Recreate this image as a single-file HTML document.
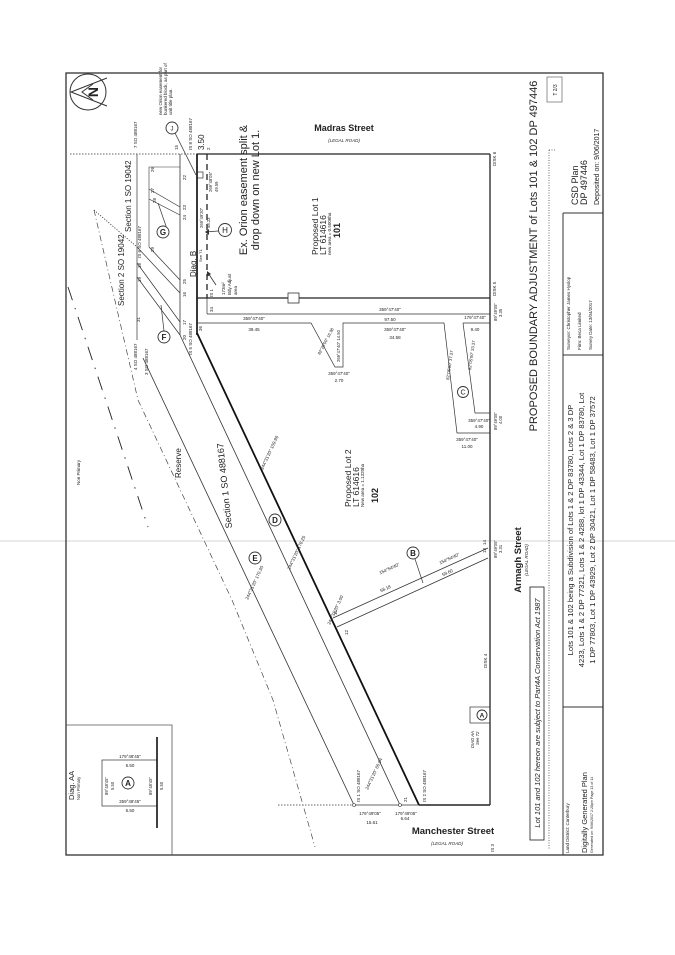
<!DOCTYPE html>
<html><head><meta charset="utf-8"><style>
html,body{margin:0;padding:0;background:#fff;}
svg{display:block;}
text{font-family:"Liberation Sans",sans-serif;fill:#222;}
</style></head><body>
<svg width="675" height="955" viewBox="0 0 675 955" xmlns="http://www.w3.org/2000/svg">
<rect width="675" height="955" fill="#fff"/>
<line x1="0" y1="541" x2="675" y2="541" stroke="#e4e4e4" stroke-width="1.5"/>
<rect x="66" y="73" width="537" height="782" fill="none" stroke="#333" stroke-width="1.3"/>
<circle cx="88" cy="92" r="18" fill="none" stroke="#333" stroke-width="1"/>
<polyline points="107,78 71,92 107,106" fill="none" stroke="#333" stroke-width="1"/>
<polyline points="93,84 82,92 93,100" fill="none" stroke="#333" stroke-width="1"/>
<text transform="translate(98,92) rotate(-90)" font-size="14" text-anchor="middle" font-weight="bold">N</text>
<text transform="translate(162,115) rotate(-90)" font-size="4.5">new Orion easement for</text>
<text transform="translate(167,115) rotate(-90)" font-size="4.5">bunkered block, as part of</text>
<text transform="translate(172,115) rotate(-90)" font-size="4.5">unit title plan.</text>
<circle cx="172" cy="128" r="6" fill="#fff" stroke="#333" stroke-width="0.9"/>
<text x="172" y="130.5" font-size="6" text-anchor="middle">J</text>
<line x1="175" y1="133" x2="196" y2="175" stroke="#333" stroke-width="0.8"/>
<rect x="197" y="172" width="6" height="6" fill="none" stroke="#333" stroke-width="0.7"/>

<line x1="70" y1="154" x2="197" y2="154" stroke="#333" stroke-width="0.8" stroke-dasharray="1.5 1.5"/>
<line x1="278" y1="805" x2="354" y2="805" stroke="#333" stroke-width="0.8" stroke-dasharray="1.5 1.5"/>
<line x1="197" y1="154" x2="490" y2="154" stroke="#222" stroke-width="1.3"/>
<line x1="197" y1="154" x2="197" y2="335" stroke="#222" stroke-width="1.8"/>
<line x1="490" y1="154" x2="490" y2="805" stroke="#222" stroke-width="1.3"/>
<line x1="197" y1="298" x2="490" y2="298" stroke="#222" stroke-width="1.3"/>
<rect x="288" y="293" width="11" height="10" fill="#fff" stroke="#333" stroke-width="0.8"/>
<line x1="207" y1="154" x2="207" y2="298" stroke="#222" stroke-width="1.3" stroke-dasharray="6 4"/>
<line x1="207" y1="298" x2="207" y2="314" stroke="#333" stroke-width="0.7"/>
<line x1="207" y1="314" x2="490" y2="314" stroke="#333" stroke-width="0.7"/>
<polyline points="197,323 311,323 335,367 343,367 343,323 444,323 457,433 490,433" fill="none" stroke="#333" stroke-width="0.7"/>
<polyline points="463,323 490,323" fill="none" stroke="#333" stroke-width="0.7"/>
<polyline points="463,323 475,413 490,413" fill="none" stroke="#333" stroke-width="0.7"/>
<circle cx="225" cy="230" r="6.5" fill="#fff" stroke="#333" stroke-width="0.9"/>
<text x="225" y="233" font-size="8" text-anchor="middle">H</text>
<line x1="218" y1="231" x2="206" y2="232" stroke="#333" stroke-width="0.8"/>
<polygon points="205,232 209,229 209,235" fill="#333"/>
<line x1="216" y1="285" x2="208" y2="273" stroke="#333" stroke-width="0.8"/>
<polygon points="207,271 211,274 207,277" fill="#333"/>
<text transform="translate(225,295) rotate(-90)" font-size="4.5">173m²</text>
<text transform="translate(231,295) rotate(-90)" font-size="4.5">Bdy Adjust</text>
<text transform="translate(237,295) rotate(-90)" font-size="4.5">area</text>
<text transform="translate(247,190) rotate(-90)" font-size="11" text-anchor="middle">Ex. Orion easement split &amp;</text>
<text transform="translate(259,190) rotate(-90)" font-size="11" text-anchor="middle">drop down on new Lot 1.</text>
<text transform="translate(318,255) rotate(-90)" font-size="8.5" fill="#555">Proposed Lot 1</text>
<text transform="translate(326,255) rotate(-90)" font-size="8.5" fill="#555">LT 614616</text>
<text transform="translate(331,255) rotate(-90)" font-size="4.5" fill="#555">new area = 0.5008ha</text>
<text transform="translate(340,238) rotate(-90)" font-size="9" font-weight="bold">101</text>
<text x="344" y="131" font-size="9" font-weight="bold" text-anchor="middle">Madras Street</text>
<text x="344" y="142" font-size="4.5" font-style="italic" text-anchor="middle">(LEGAL ROAD)</text>
<text transform="translate(496,166) rotate(-90)" font-size="4.5">DISK 6</text>
<text transform="translate(496,296) rotate(-90)" font-size="4.5">DISK 5</text>
<text transform="translate(487,668) rotate(-90)" font-size="4.5">DISK 4</text>
<text transform="translate(494,852) rotate(-90)" font-size="4.5">IS 3</text>
<text transform="translate(192,150) rotate(-90)" font-size="4.5">IS 8 SO 488167</text>
<text transform="translate(204,150) rotate(-90)" font-size="8">3.50</text>
<text transform="translate(210,150) rotate(-90)" font-size="4.5">2</text>
<text transform="translate(212,192) rotate(-90)" font-size="4.2">269°48'05"</text>
<text transform="translate(218,192) rotate(-90)" font-size="4.2">49.59</text>
<text transform="translate(203,228) rotate(-90)" font-size="4.2">269°49'20"</text>
<text transform="translate(210,228) rotate(-90)" font-size="4.2">58.23</text>
<text transform="translate(213,297) rotate(-90)" font-size="4.5">IS 1</text>
<text transform="translate(213,312) rotate(-90)" font-size="4.5">34</text>
<text transform="translate(202,331) rotate(-90)" font-size="4.5">36</text>
<text x="390" y="311" font-size="4.5" text-anchor="middle">359°47'40"</text>
<text x="390" y="321" font-size="4.5" text-anchor="middle">97.50</text>
<text x="254" y="320" font-size="4.5" text-anchor="middle">359°47'40"</text>
<text x="254" y="331" font-size="4.5" text-anchor="middle">39.45</text>
<text x="395" y="331" font-size="4.5" text-anchor="middle">359°47'40"</text>
<text x="395" y="339" font-size="4.5" text-anchor="middle">34.58</text>
<text x="339" y="375" font-size="4.5" text-anchor="middle">359°47'40"</text>
<text x="339" y="382" font-size="4.5" text-anchor="middle">2.70</text>
<text transform="translate(340,362) rotate(-90)" font-size="4.2">269°47'40" 14.50</text>
<text transform="translate(320,355) rotate(-62)" font-size="4.2">82°20'00" 16.98</text>
<text x="475" y="319" font-size="4.5" text-anchor="middle">179°47'40"</text>
<text x="475" y="331" font-size="4.5" text-anchor="middle">9.40</text>
<text x="479" y="422" font-size="4.5" text-anchor="middle">359°47'40"</text>
<text x="479" y="428" font-size="4.5" text-anchor="middle">4.90</text>
<text x="467" y="441" font-size="4.5" text-anchor="middle">359°47'40"</text>
<text x="467" y="448" font-size="4.5" text-anchor="middle">11.00</text>
<text transform="translate(449,380) rotate(-82)" font-size="4.2">82°05'00" 37.37</text>
<text transform="translate(471,370) rotate(-82)" font-size="4.2">82°05'00" 33.37</text>
<text transform="translate(497,321) rotate(-90)" font-size="4.2">89°49'05"</text>
<text transform="translate(502,317) rotate(-90)" font-size="4.2">3.35</text>
<text transform="translate(497,430) rotate(-90)" font-size="4.2">89°49'05"</text>
<text transform="translate(502,424) rotate(-90)" font-size="4.2">4.00</text>
<text transform="translate(497,558) rotate(-90)" font-size="4.2">89°49'05"</text>
<text transform="translate(502,553) rotate(-90)" font-size="4.2">3.31</text>
<circle cx="463" cy="392" r="5.5" fill="#fff" stroke="#333" stroke-width="0.9"/>
<text x="463" y="394.5" font-size="7" text-anchor="middle">C</text>

<line x1="137" y1="154" x2="137" y2="340" stroke="#333" stroke-width="0.7"/>
<line x1="180" y1="154" x2="180" y2="335" stroke="#333" stroke-width="0.8"/>
<line x1="149" y1="167" x2="149" y2="247" stroke="#333" stroke-width="0.6"/>
<line x1="149" y1="167" x2="180" y2="167" stroke="#333" stroke-width="0.6"/>
<line x1="149" y1="189" x2="180" y2="207" stroke="#333" stroke-width="0.7"/>
<line x1="149" y1="199" x2="180" y2="215" stroke="#333" stroke-width="0.7"/>
<line x1="149" y1="247" x2="180" y2="280" stroke="#333" stroke-width="0.7"/>
<line x1="137" y1="247" x2="180" y2="293" stroke="#333" stroke-width="0.7"/>
<line x1="137" y1="263" x2="180" y2="322" stroke="#333" stroke-width="0.7"/>
<line x1="137" y1="277" x2="180" y2="335" stroke="#333" stroke-width="0.7"/>
<line x1="94" y1="210" x2="137" y2="247" stroke="#333" stroke-width="0.8" stroke-dasharray="1.2 1.5"/>
<text transform="translate(137,148) rotate(-90)" font-size="4.5">7 SO 488167</text>
<text transform="translate(178,150) rotate(-90)" font-size="4.5">15</text>
<text transform="translate(154,172) rotate(-90)" font-size="4.5">26</text>
<text transform="translate(154,193) rotate(-90)" font-size="4.5">27</text>
<text transform="translate(156,203) rotate(-90)" font-size="4.5">28</text>
<text transform="translate(154,252) rotate(-90)" font-size="4.5">29</text>
<text transform="translate(186,180) rotate(-90)" font-size="4.5">22</text>
<text transform="translate(186,210) rotate(-90)" font-size="4.5">23</text>
<text transform="translate(186,220) rotate(-90)" font-size="4.5">24</text>
<text transform="translate(186,284) rotate(-90)" font-size="4.5">25</text>
<text transform="translate(186,297) rotate(-90)" font-size="4.5">16</text>
<text transform="translate(186,325) rotate(-90)" font-size="4.5">17</text>
<text transform="translate(186,340) rotate(-90)" font-size="4.5">20</text>
<text transform="translate(192,355) rotate(-90)" font-size="4.5">IS 5 SO 488167</text>
<text transform="translate(141,258) rotate(-90)" font-size="4.5">IS 6 SO 488167</text>
<text transform="translate(141,268) rotate(-90)" font-size="4.5">18</text>
<text transform="translate(141,282) rotate(-90)" font-size="4.5">19</text>
<text transform="translate(140,322) rotate(-90)" font-size="4.5">31</text>
<text transform="translate(137,370) rotate(-90)" font-size="4.5">4 SO 488167</text>
<text transform="translate(148,375) rotate(-90)" font-size="4.5">3 SO 488167</text>
<text transform="translate(131,232) rotate(-90)" font-size="8">Section 1 SO 19042</text>
<text transform="translate(124,306) rotate(-90)" font-size="8">Section 2 SO 19042</text>
<text transform="translate(196,277) rotate(-90)" font-size="8">Diag. B</text>
<text transform="translate(202,262) rotate(-90)" font-size="4">See T1</text>
<circle cx="163" cy="232" r="6" fill="#fff" stroke="#333" stroke-width="0.9"/>
<text x="163" y="235" font-size="8" text-anchor="middle" font-weight="bold">G</text>
<line x1="166" y1="226" x2="158" y2="203" stroke="#333" stroke-width="0.7"/>
<circle cx="164" cy="337" r="6" fill="#fff" stroke="#333" stroke-width="0.9"/>
<text x="164" y="340" font-size="8" text-anchor="middle" font-weight="bold">F</text>
<line x1="164" y1="331" x2="161" y2="305" stroke="#333" stroke-width="0.7"/>

<line x1="197" y1="333" x2="419" y2="805" stroke="#111" stroke-width="1.8"/>
<line x1="180" y1="335" x2="400" y2="805" stroke="#333" stroke-width="0.8"/>
<line x1="143" y1="358" x2="354" y2="805" stroke="#333" stroke-width="0.8"/>
<polyline points="94,210 138,400 232,600 273,700 315,847" fill="none" stroke="#444" stroke-width="0.7" stroke-dasharray="6 3 1 3"/>
<line x1="68" y1="287" x2="148" y2="527" stroke="#222" stroke-width="0.9" stroke-dasharray="14 8 1.5 8"/>
<text transform="translate(80,485) rotate(-90)" font-size="4.5">Non Primary</text>
<text transform="translate(181,478) rotate(-90)" font-size="8">Reserve</text>
<text transform="translate(232,528) rotate(-96)" font-size="9">Section 1 SO 488167</text>
<text transform="translate(263,470) rotate(-65)" font-size="4.5">244°31'20" 109.96</text>
<text transform="translate(290,570) rotate(-65)" font-size="4.5">244°31'20" 178.25</text>
<text transform="translate(248,600) rotate(-65)" font-size="4.5">244°31'20" 170.30</text>
<text transform="translate(330,625) rotate(-65)" font-size="4.5">244°31'20" 3.00</text>
<text transform="translate(368,790) rotate(-65)" font-size="4.5">244°31'20" 66.94</text>
<circle cx="275" cy="520" r="6" fill="#fff" stroke="#333" stroke-width="0.9"/>
<text x="275" y="523" font-size="8" text-anchor="middle" font-weight="bold">D</text>
<circle cx="255" cy="558" r="6" fill="#fff" stroke="#333" stroke-width="0.9"/>
<text x="255" y="561" font-size="8" text-anchor="middle" font-weight="bold">E</text>

<text transform="translate(351,507) rotate(-90)" font-size="8.5" fill="#555">Proposed Lot 2</text>
<text transform="translate(359,507) rotate(-90)" font-size="8.5" fill="#555">LT 614616</text>
<text transform="translate(364,507) rotate(-90)" font-size="4.5" fill="#555">New area = 1.1320ha</text>
<text transform="translate(378,503) rotate(-90)" font-size="9" font-weight="bold">102</text>
<line x1="333" y1="618" x2="488" y2="548" stroke="#333" stroke-width="0.8"/>
<line x1="337" y1="627" x2="488" y2="558" stroke="#333" stroke-width="0.8"/>
<text transform="translate(390,570) rotate(-24.5)" font-size="4.5" text-anchor="middle">154°54'40"</text>
<text transform="translate(450,560) rotate(-24.5)" font-size="4.5" text-anchor="middle">154°54'40"</text>
<text transform="translate(386,590) rotate(-24.5)" font-size="4.5" text-anchor="middle">58.18</text>
<text transform="translate(448,574) rotate(-24.5)" font-size="4.5" text-anchor="middle">59.60</text>
<text transform="translate(337,615) rotate(-90)" font-size="4.5">11</text>
<text transform="translate(348,635) rotate(-90)" font-size="4.5">12</text>
<text transform="translate(486,553) rotate(-90)" font-size="4.5">13</text>
<text transform="translate(486,545) rotate(-90)" font-size="4.5">14</text>
<circle cx="413" cy="553" r="6" fill="#fff" stroke="#333" stroke-width="0.9"/>
<text x="413" y="556" font-size="8" text-anchor="middle" font-weight="bold">B</text>
<line x1="415" y1="559" x2="423" y2="583" stroke="#333" stroke-width="0.7"/>
<line x1="419" y1="805" x2="490" y2="805" stroke="#222" stroke-width="1.5"/>
<line x1="354" y1="805" x2="419" y2="805" stroke="#333" stroke-width="0.7"/>
<circle cx="354" cy="805" r="1.5" fill="#fff" stroke="#333" stroke-width="0.6"/>
<circle cx="400" cy="805" r="1.5" fill="#fff" stroke="#333" stroke-width="0.6"/>
<text transform="translate(360,802) rotate(-90)" font-size="4.5">IS 1 SO 488167</text>
<text transform="translate(407,802) rotate(-90)" font-size="4.5">21</text>
<text transform="translate(426,802) rotate(-90)" font-size="4.5">IS 2 SO 488167</text>
<text x="370" y="815" font-size="4.5" text-anchor="middle">179°49'05"</text>
<text x="372" y="824" font-size="4.5" text-anchor="middle">15.61</text>
<text x="406" y="815" font-size="4.5" text-anchor="middle">179°49'05"</text>
<text x="405" y="820" font-size="4.5" text-anchor="middle">6.64</text>
<text x="453" y="834" font-size="9.5" font-weight="bold" text-anchor="middle">Manchester Street</text>
<text x="447" y="845" font-size="4.5" font-style="italic" text-anchor="middle">(LEGAL ROAD)</text>
<text transform="translate(521,560) rotate(-90)" font-size="9.5" font-weight="bold" text-anchor="middle">Armagh Street</text>
<text transform="translate(528,560) rotate(-90)" font-size="4.5" font-style="italic" text-anchor="middle">(LEGAL ROAD)</text>
<rect x="470" y="707" width="20" height="16" fill="none" stroke="#333" stroke-width="0.7"/>
<circle cx="482" cy="715" r="5" fill="#fff" stroke="#333" stroke-width="0.9"/>
<text x="482" y="717.5" font-size="6.5" text-anchor="middle" font-weight="bold">A</text>
<text transform="translate(474,748) rotate(-90)" font-size="4.2" font-style="italic">DIAG AA</text>
<text transform="translate(479,745) rotate(-90)" font-size="4.2" font-style="italic">See T2</text>
<polyline points="66,725 172,725 172,855" fill="none" stroke="#555" stroke-width="0.8"/>
<rect x="102" y="760" width="55" height="46" fill="none" stroke="#333" stroke-width="0.7"/>
<line x1="157" y1="737" x2="157" y2="828" stroke="#111" stroke-width="1.6"/>
<circle cx="128" cy="783" r="6" fill="#fff" stroke="#333" stroke-width="0.9"/>
<text x="128" y="786" font-size="8" text-anchor="middle" font-weight="bold">A</text>
<text x="130" y="758" font-size="4.5" text-anchor="middle">179°48'45"</text>
<text x="130" y="767" font-size="4.5" text-anchor="middle">6.50</text>
<text x="130" y="803" font-size="4.5" text-anchor="middle">359°48'45"</text>
<text x="130" y="812" font-size="4.5" text-anchor="middle">6.50</text>
<text transform="translate(108,795) rotate(-90)" font-size="4.2">89°48'45"</text>
<text transform="translate(114,790) rotate(-90)" font-size="4.2">5.50</text>
<text transform="translate(152,795) rotate(-90)" font-size="4.2">89°48'45"</text>
<text transform="translate(163,790) rotate(-90)" font-size="4.2">5.50</text>
<text transform="translate(74,800) rotate(-90)" font-size="7.5">Diag. AA</text>
<text transform="translate(80,800) rotate(-90)" font-size="4.2">Non Primary</text>

<text transform="translate(537,256) rotate(-90)" font-size="11" text-anchor="middle" fill="#333">PROPOSED BOUNDARY ADJUSTMENT of Lots 101 &amp; 102 DP 497446</text>
<rect x="547" y="77" width="15" height="25" fill="none" stroke="#666" stroke-width="0.7"/>
<text transform="translate(557,90) rotate(-90)" font-size="5" text-anchor="middle">T 2/3</text>
<rect x="530" y="587" width="14" height="253" fill="none" stroke="#333" stroke-width="0.9"/>
<text transform="translate(540,713) rotate(-90)" font-size="7.5" font-style="italic" text-anchor="middle">Lot 101 and 102 hereon are subject to Part4A Conservation Act 1987</text>
<line x1="549" y1="150" x2="549" y2="850" stroke="#444" stroke-width="0.8" stroke-dasharray="1 1.5"/>
<line x1="549" y1="150" x2="556" y2="150" stroke="#444" stroke-width="0.8" stroke-dasharray="1 1.5"/>
<line x1="563" y1="213" x2="563" y2="855" stroke="#333" stroke-width="1"/>
<line x1="563" y1="213" x2="603" y2="213" stroke="#333" stroke-width="1"/>
<line x1="563" y1="355" x2="603" y2="355" stroke="#333" stroke-width="1"/>
<line x1="563" y1="707" x2="603" y2="707" stroke="#333" stroke-width="1"/>
<text transform="translate(578,205) rotate(-90)" font-size="9">CSD Plan</text>
<text transform="translate(587,205) rotate(-90)" font-size="9">DP 497446</text>
<text transform="translate(599,205) rotate(-90)" font-size="7">Deposited on: 9/06/2017</text>
<text transform="translate(570,350) rotate(-90)" font-size="4.5">Surveyor: Christopher James Hyslop</text>
<text transform="translate(581,350) rotate(-90)" font-size="4.5">Firm: Beca Limited</text>
<text transform="translate(592,350) rotate(-90)" font-size="4.5">Survey Date: 13/04/2017</text>
<text transform="translate(573,530) rotate(-90)" font-size="7.6" text-anchor="middle">Lots 101 &amp; 102 being a Subdivision of Lots 1 &amp; 2 DP 83780, Lots 2 &amp; 3 DP</text>
<text transform="translate(584,530) rotate(-90)" font-size="7.6" text-anchor="middle">4233, Lots 1 &amp; 2 DP 77321, Lots 1 &amp; 2 4288, lot 1 DP 43344, Lot 1 DP 83780, Lot</text>
<text transform="translate(595,530) rotate(-90)" font-size="7.6" text-anchor="middle">1 DP 77803, Lot 1 DP 43929, Lot 2 DP 30421, Lot 1 DP 58483, Lot 1 DP 37572</text>
<text transform="translate(569,853) rotate(-90)" font-size="4.5">Land District: Canterbury</text>
<text transform="translate(587,853) rotate(-90)" font-size="7.5">Digitally Generated Plan</text>
<text transform="translate(593,853) rotate(-90)" font-size="3.6">Generated on: 9/06/2017 2:28pm Page 13 of 14</text>
</svg>
</body></html>
